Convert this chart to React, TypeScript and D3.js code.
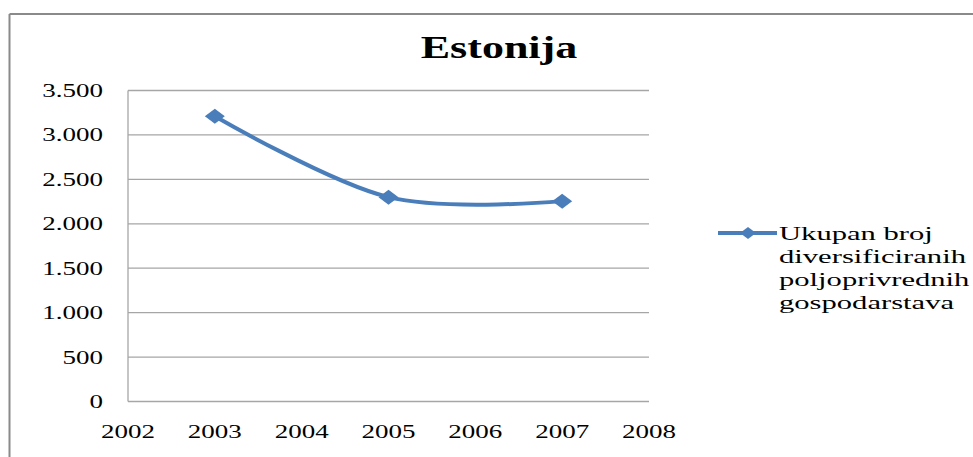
import React from "react";
import * as d3 from "d3";

const years: number[] = [2003, 2005, 2007];
const values: number[] = [3210, 2300, 2255];
const yTicks: number[] = [0, 500, 1000, 1500, 2000, 2500, 3000, 3500];
const xTicks: number[] = [2002, 2003, 2004, 2005, 2006, 2007, 2008];
const title = "Estonija";
const legendLines: string[] = ["Ukupan broj", "diversificiranih", "poljoprivrednih", "gospodarstava"];

const W = 973;
const H = 457;
const left = 128;
const right = 649;
const top = 90.5;
const bottom = 401.5;
const color = "#4a7ebb";
const SX = 1.5;

const fmt = (v: number) => d3.format(",")(v).replace(/,/g, ".");

export default function App() {
  const x = d3.scaleLinear().domain([2002, 2008]).range([left, right]);
  const y = d3.scaleLinear().domain([0, 3500]).range([bottom, top]);
  const pts: [number, number][] = years.map((yr, i) => [x(yr), y(values[i])]);
  const line = d3.line().curve(d3.curveCardinal.tension(0))(pts) || "";
  const diamond = (cx: number, cy: number, w: number, h: number) =>
    `M${cx - w / 2},${cy} L${cx},${cy - h / 2} L${cx + w / 2},${cy} L${cx},${cy + h / 2} Z`;

  return (
    <svg width={W} height={H} style={{ position: "absolute", left: 0, top: 0, background: "#fff" }}
      fontFamily="'Liberation Serif', 'Times New Roman', serif">
      <rect x={0} y={0} width={W} height={H} fill="#fff" />
      {/* border */}
      <line x1={9.5} y1={14} x2={W} y2={14} stroke="#8a8a8a" strokeWidth={2} />
      <line x1={9.5} y1={14} x2={9.5} y2={H} stroke="#8a8a8a" strokeWidth={2} />
      {/* title */}
      <text transform={`translate(499,58) scale(1.42,1)`} textAnchor="middle" fontSize={31} fontWeight="bold" fill="#000">
        {title}
      </text>
      {/* gridlines */}
      {yTicks.map((t) => (
        <line key={t} x1={left} x2={right} y1={y(t)} y2={y(t)} stroke="#a6a6a6" strokeWidth={1.3} />
      ))}
      <line x1={left} x2={left} y1={top} y2={bottom} stroke="#a6a6a6" strokeWidth={1.3} />
      {/* y labels */}
      {yTicks.map((t) => (
        <text key={t} transform={`translate(103,${y(t) + 6.5}) scale(${SX},1)`} textAnchor="end" fontSize={18} fill="#000">
          {fmt(t)}
        </text>
      ))}
      {/* x labels */}
      {xTicks.map((t) => (
        <text key={t} transform={`translate(${x(t)},438) scale(${SX},1)`} textAnchor="middle" fontSize={18} fill="#000">
          {t}
        </text>
      ))}
      {/* series */}
      <path d={line} fill="none" stroke={color} strokeWidth={4} strokeLinecap="round" />
      {pts.map(([px, py], i) => (
        <path key={i} d={diamond(px, py, 20, 15)} fill={color} />
      ))}
      {/* legend */}
      <line x1={718} x2={777} y1={233} y2={233} stroke={color} strokeWidth={4} />
      <path d={diamond(748, 233, 16, 12)} fill={color} />
      {legendLines.map((s, i) => (
        <text key={i} transform={`translate(779,${240 + i * 23}) scale(1.57,1)`} fontSize={19.5} fill="#000">
          {s}
        </text>
      ))}
    </svg>
  );
}
